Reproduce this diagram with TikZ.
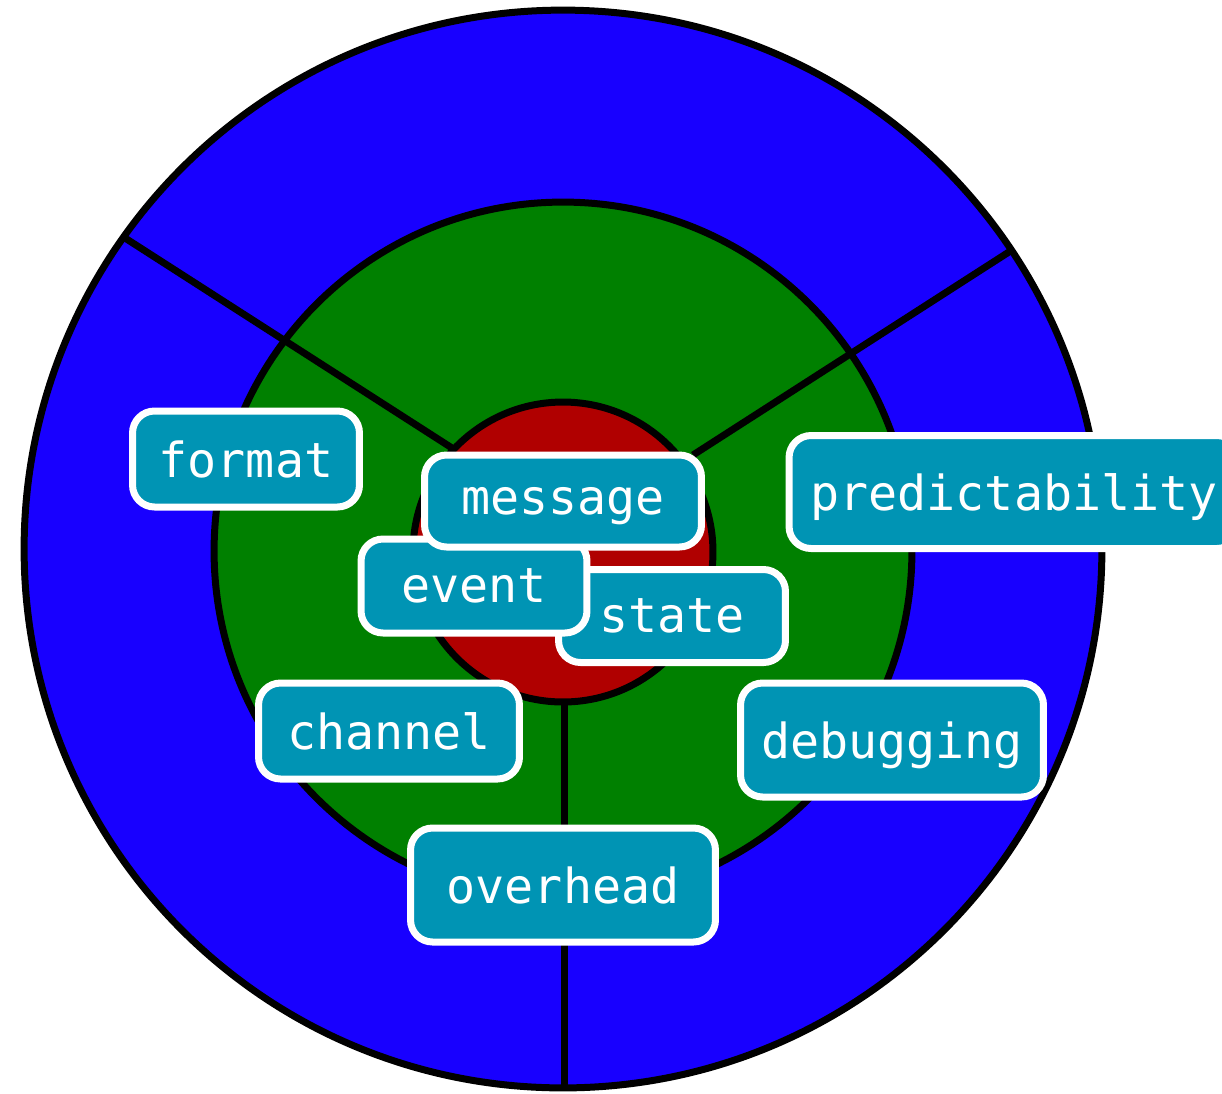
\documentclass[tikz,border=0pt]{standalone}
\usepackage{fontspec}
\setmonofont{DejaVu Sans Mono}
\usetikzlibrary{positioning}

\definecolor{ringblue}{RGB}{24,0,255}
\definecolor{ringgreen}{RGB}{0,128,0}
\definecolor{ringred}{RGB}{176,0,0}
\definecolor{tagteal}{RGB}{0,148,180}

\tikzset{
  ring/.style={circle, draw=black, line width=0.14cm, inner sep=0pt},
  spoke/.style={draw=black, line width=0.14cm},
  tag/.style={draw=white, fill=tagteal, text=white, line width=0.14cm,
    rounded corners=0.44cm, inner sep=0pt, align=center, text depth=0pt,
    font=\ttfamily\fontsize{27.5}{31}\selectfont},
}

\begin{document}
\begin{tikzpicture}[x=0.02cm, y=-0.02cm]

  \useasboundingbox (0,0) rectangle (1222,1093);
  \fill[white] (0,0) rectangle (1222,1093);

  \node (outer) [ring, fill=ringblue, minimum size=21.56cm] at (563,549) {};
  \node (middle) [ring, fill=ringgreen, minimum size=13.96cm] at (563,551) {};

  \coordinate (ulin) at (452,448);
  \coordinate (ulout) at (125,238);
  \coordinate (urin) at (693,455);
  \coordinate (urout) at (1012,250);
  \coordinate (bin) at (564,700);
  \coordinate (bout) at (564,1090);

  \draw[spoke] (ulin) -- (ulout);
  \draw[spoke] (urin) -- (urout);
  \draw[spoke] (bin) -- (bout);

  \node (inner) [ring, fill=ringred, minimum size=6cm] at (563,552) {};

  \node (format) [tag, minimum width=4.54cm, minimum height=1.92cm] at (246,459) {format};
  \node (predict) [tag, minimum width=9cm, minimum height=2.26cm] at (1014,492) {predictability};
  \node (state) [tag, minimum width=4.54cm, minimum height=1.86cm] at (672,616) {state};
  \node (event) [tag, minimum width=4.52cm, minimum height=1.88cm] at (474,586) {event};
  \node (message) [tag, minimum width=5.54cm, minimum height=1.84cm] at (563,501) {message};
  \node (channel) [tag, minimum width=5.22cm, minimum height=1.92cm] at (389,731) {channel};
  \node (debug) [tag, minimum width=6.06cm, minimum height=2.28cm] at (892,740) {debugging};
  \node (overhead) [tag, minimum width=6.1cm, minimum height=2.28cm] at (563,885) {overhead};

\end{tikzpicture}
\end{document}
